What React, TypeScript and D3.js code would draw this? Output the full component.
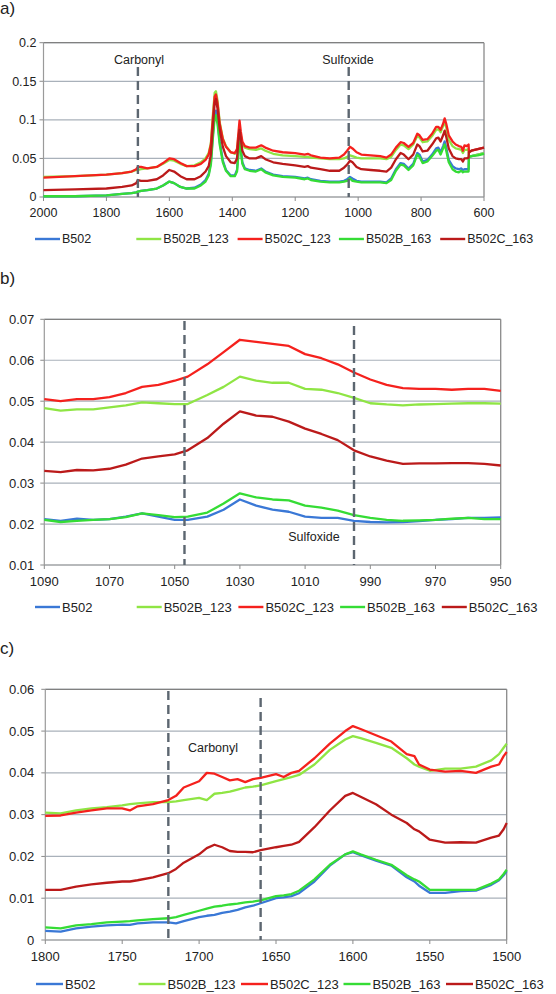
import React from "react";
import * as d3 from "d3";

// ---------- shared ----------
const seriesNames = ["B502", "B502B_123", "B502C_123", "B502B_163", "B502C_163"];
const seriesColors = ["#3a78d6", "#8fe544", "#f5211d", "#35dc35", "#bb1a1a"];

// ---------- panel a ----------
const waveA = [2000, 1900, 1800, 1750, 1720, 1705, 1700, 1690, 1670, 1640, 1620, 1600, 1585, 1565, 1545, 1520, 1500, 1485, 1475, 1468, 1462, 1456, 1452, 1447, 1440, 1430, 1420, 1405, 1392, 1385, 1380, 1377, 1373, 1368, 1360, 1345, 1325, 1308, 1295, 1270, 1240, 1200, 1170, 1160, 1150, 1120, 1090, 1060, 1045, 1035, 1026, 1018, 1005, 990, 960, 930, 910, 895, 880, 865, 855, 840, 825, 812, 805, 795, 780, 765, 752, 745, 738, 730, 725, 720, 712, 700, 690, 680, 672, 667, 662, 655, 649, 648, 640, 620, 600];
const a_B502 = [0.001, 0.001, 0.002, 0.004, 0.005, 0.006, 0.007, 0.008, 0.009, 0.011, 0.015, 0.020, 0.018, 0.013, 0.011, 0.012, 0.016, 0.022, 0.030, 0.045, 0.080, 0.108, 0.112, 0.100, 0.072, 0.047, 0.035, 0.028, 0.028, 0.035, 0.062, 0.075, 0.063, 0.045, 0.037, 0.035, 0.034, 0.037, 0.033, 0.029, 0.027, 0.026, 0.024, 0.025, 0.023, 0.021, 0.020, 0.020, 0.021, 0.023, 0.026, 0.024, 0.021, 0.020, 0.020, 0.020, 0.019, 0.024, 0.036, 0.044, 0.043, 0.037, 0.043, 0.057, 0.055, 0.046, 0.048, 0.055, 0.063, 0.064, 0.058, 0.066, 0.072, 0.064, 0.048, 0.040, 0.037, 0.036, 0.037, 0.035, 0.036, 0.036, 0.036, 0.052, 0.053, 0.055, 0.057];
const a_B502B_123 = [0.026, 0.027, 0.029, 0.031, 0.033, 0.035, 0.035, 0.036, 0.037, 0.039, 0.043, 0.048, 0.047, 0.043, 0.040, 0.041, 0.045, 0.050, 0.057, 0.070, 0.105, 0.135, 0.137, 0.125, 0.097, 0.076, 0.066, 0.058, 0.056, 0.060, 0.080, 0.088, 0.080, 0.068, 0.064, 0.062, 0.061, 0.063, 0.060, 0.056, 0.054, 0.053, 0.052, 0.052, 0.051, 0.050, 0.049, 0.049, 0.050, 0.052, 0.054, 0.053, 0.051, 0.050, 0.050, 0.050, 0.049, 0.052, 0.061, 0.068, 0.067, 0.062, 0.068, 0.079, 0.077, 0.071, 0.072, 0.079, 0.087, 0.088, 0.084, 0.092, 0.098, 0.090, 0.074, 0.066, 0.063, 0.062, 0.061, 0.057, 0.061, 0.061, 0.062, 0.052, 0.053, 0.055, 0.057];
const a_B502C_123 = [0.025, 0.027, 0.029, 0.031, 0.033, 0.036, 0.039, 0.039, 0.037, 0.039, 0.044, 0.050, 0.049, 0.044, 0.040, 0.040, 0.043, 0.048, 0.055, 0.068, 0.100, 0.130, 0.133, 0.122, 0.095, 0.075, 0.065, 0.058, 0.057, 0.062, 0.085, 0.099, 0.085, 0.072, 0.066, 0.064, 0.064, 0.067, 0.064, 0.060, 0.058, 0.057, 0.055, 0.056, 0.054, 0.051, 0.050, 0.051, 0.055, 0.060, 0.065, 0.063, 0.058, 0.055, 0.054, 0.053, 0.051, 0.055, 0.064, 0.071, 0.070, 0.065, 0.070, 0.082, 0.080, 0.074, 0.075, 0.082, 0.091, 0.091, 0.087, 0.095, 0.102, 0.095, 0.080, 0.072, 0.068, 0.066, 0.065, 0.060, 0.067, 0.066, 0.068, 0.058, 0.060, 0.062, 0.064];
const a_B502B_163 = [0.001, 0.001, 0.002, 0.004, 0.005, 0.006, 0.007, 0.008, 0.009, 0.011, 0.015, 0.020, 0.018, 0.013, 0.011, 0.011, 0.015, 0.020, 0.028, 0.042, 0.075, 0.102, 0.106, 0.095, 0.068, 0.045, 0.034, 0.027, 0.027, 0.033, 0.058, 0.071, 0.060, 0.043, 0.036, 0.034, 0.033, 0.036, 0.032, 0.028, 0.026, 0.025, 0.023, 0.024, 0.022, 0.020, 0.019, 0.019, 0.020, 0.021, 0.024, 0.021, 0.020, 0.019, 0.019, 0.019, 0.018, 0.022, 0.034, 0.042, 0.041, 0.035, 0.041, 0.055, 0.052, 0.044, 0.046, 0.053, 0.060, 0.061, 0.055, 0.063, 0.068, 0.060, 0.045, 0.036, 0.033, 0.032, 0.034, 0.032, 0.033, 0.033, 0.033, 0.052, 0.053, 0.054, 0.056];
const a_B502C_163 = [0.009, 0.010, 0.011, 0.013, 0.015, 0.018, 0.022, 0.021, 0.021, 0.023, 0.028, 0.035, 0.033, 0.027, 0.023, 0.023, 0.027, 0.033, 0.040, 0.055, 0.090, 0.122, 0.127, 0.115, 0.088, 0.065, 0.053, 0.045, 0.044, 0.050, 0.075, 0.087, 0.076, 0.060, 0.053, 0.050, 0.050, 0.053, 0.049, 0.045, 0.043, 0.041, 0.039, 0.040, 0.038, 0.036, 0.034, 0.034, 0.038, 0.042, 0.047, 0.045, 0.039, 0.036, 0.035, 0.034, 0.033, 0.038, 0.049, 0.057, 0.055, 0.049, 0.055, 0.068, 0.066, 0.059, 0.060, 0.068, 0.076, 0.077, 0.072, 0.080, 0.086, 0.078, 0.063, 0.053, 0.050, 0.049, 0.049, 0.046, 0.050, 0.050, 0.051, 0.058, 0.060, 0.062, 0.064];
const xTicksA = [2000, 1800, 1600, 1400, 1200, 1000, 800, 600];
const yTicksA = [0, 0.05, 0.1, 0.15, 0.2];
const yLabelsA = ["0", "0.05", "0.1", "0.15", "0.2"];
const dashesA = [1700, 1030];

// ---------- panel b ----------
const waveB = [1090, 1085, 1080, 1075, 1070, 1065, 1060, 1055, 1050, 1046, 1040, 1035, 1030, 1025, 1020, 1015, 1010, 1005, 1000, 995, 990, 985, 980, 975, 970, 965, 960, 955, 950];
const b_B502 = [0.0212, 0.0208, 0.0213, 0.021, 0.0212, 0.0218, 0.0226, 0.0218, 0.021, 0.021, 0.0218, 0.0235, 0.026, 0.0245, 0.0235, 0.023, 0.0218, 0.0215, 0.0215, 0.0208, 0.0205, 0.0204, 0.0205, 0.0207, 0.021, 0.0212, 0.0215, 0.0215, 0.0216];
const b_B502B_123 = [0.0483, 0.0477, 0.048, 0.048, 0.0485, 0.049, 0.0497, 0.0495, 0.0493, 0.0493, 0.0515, 0.0535, 0.056, 0.055, 0.0545, 0.0545, 0.053, 0.0528, 0.052, 0.0508, 0.0495, 0.0492, 0.049, 0.0492, 0.0493, 0.0494, 0.0495, 0.0495, 0.0494];
const b_B502C_123 = [0.0505, 0.05, 0.0505, 0.0505, 0.051, 0.052, 0.0535, 0.054, 0.055, 0.056, 0.059, 0.062, 0.065, 0.0645, 0.064, 0.0635, 0.0615, 0.0605, 0.059, 0.057, 0.0553, 0.054, 0.0532, 0.053, 0.053, 0.0528, 0.053, 0.053, 0.0525];
const b_B502B_163 = [0.021, 0.0205, 0.0208, 0.021, 0.0212, 0.0217, 0.0226, 0.0222, 0.0217, 0.0218, 0.0228, 0.025, 0.0275, 0.0265, 0.026, 0.0258, 0.0245, 0.024, 0.0233, 0.0222, 0.0215, 0.021, 0.0208, 0.0209, 0.021, 0.0213, 0.0215, 0.0212, 0.0212];
const b_B502C_163 = [0.033, 0.0327, 0.0332, 0.0331, 0.0335, 0.0345, 0.036, 0.0365, 0.037, 0.038, 0.041, 0.0445, 0.0475, 0.0465, 0.0462, 0.045, 0.0433, 0.042, 0.0405, 0.038, 0.0365, 0.0355, 0.0347, 0.0348, 0.0348, 0.0349, 0.0349, 0.0347, 0.0343];
const xTicksB = [1090, 1070, 1050, 1030, 1010, 990, 970, 950];
const yTicksB = [0.01, 0.02, 0.03, 0.04, 0.05, 0.06, 0.07];
const yLabelsB = ["0.01", "0.02", "0.03", "0.04", "0.05", "0.06", "0.07"];
const dashesB = [1047, 995];

// ---------- panel c ----------
const waveC = [1800, 1790, 1780, 1770, 1760, 1750, 1745, 1740, 1730, 1720, 1715, 1710, 1700, 1695, 1690, 1685, 1680, 1675, 1670, 1665, 1660, 1650, 1645, 1640, 1635, 1625, 1615, 1605, 1600, 1595, 1585, 1575, 1565, 1560, 1557, 1550, 1540, 1530, 1520, 1510, 1505, 1502, 1500];
const c_B502 = [0.0022, 0.002, 0.0028, 0.0032, 0.0035, 0.0037, 0.0036, 0.004, 0.0042, 0.0042, 0.004, 0.0045, 0.0055, 0.0058, 0.006, 0.0065, 0.0068, 0.0072, 0.0078, 0.0082, 0.0088, 0.01, 0.0102, 0.0105, 0.0112, 0.014, 0.0178, 0.0205, 0.021, 0.0203, 0.019, 0.0178, 0.015, 0.014, 0.013, 0.0113, 0.0113, 0.0117, 0.0118, 0.0132, 0.0143, 0.0155, 0.0165];
const c_B502B_123 = [0.0305, 0.0303, 0.031, 0.0315, 0.0318, 0.0322, 0.0325, 0.0327, 0.033, 0.033, 0.0332, 0.0335, 0.034, 0.0335, 0.035, 0.0352, 0.0355, 0.036, 0.0365, 0.0367, 0.037, 0.038, 0.0385, 0.039, 0.0395, 0.042, 0.0455, 0.048, 0.0488, 0.0483, 0.0472, 0.046, 0.0435, 0.042, 0.0415, 0.0405, 0.041, 0.041, 0.0415, 0.043, 0.0445, 0.046, 0.047];
const c_B502C_123 = [0.0297, 0.0298, 0.0305, 0.031, 0.0315, 0.0315, 0.031, 0.032, 0.0325, 0.0335, 0.0345, 0.0365, 0.038, 0.04, 0.0398, 0.039, 0.0382, 0.0385, 0.0378, 0.0385, 0.0388, 0.0397, 0.039, 0.04, 0.0405, 0.0435, 0.047, 0.05, 0.0512, 0.0505, 0.049, 0.0475, 0.0445, 0.044, 0.042, 0.0408, 0.0403, 0.0405, 0.04, 0.0415, 0.042, 0.044, 0.045];
const c_B502B_163 = [0.003, 0.0028, 0.0035, 0.0038, 0.0042, 0.0044, 0.0045, 0.0047, 0.005, 0.0052, 0.0055, 0.006, 0.007, 0.0075, 0.008, 0.0082, 0.0085, 0.0087, 0.009, 0.0092, 0.0095, 0.0105, 0.0107, 0.011, 0.0118, 0.0145, 0.018, 0.0205, 0.0212, 0.0205, 0.0192, 0.018, 0.0155, 0.0145, 0.014, 0.012, 0.012, 0.012, 0.012, 0.0135, 0.0145, 0.0158, 0.0168];
const c_B502C_163 = [0.012, 0.012, 0.0128, 0.0133, 0.0137, 0.014, 0.014, 0.0143, 0.015, 0.016, 0.017, 0.0185, 0.0205, 0.022, 0.0228, 0.0222, 0.0213, 0.0211, 0.0211, 0.021, 0.0215, 0.0222, 0.0225, 0.0228, 0.0235, 0.027, 0.031, 0.0345, 0.0352, 0.0343, 0.0325, 0.03, 0.028, 0.0265, 0.026, 0.024, 0.0233, 0.0234, 0.0233, 0.0245, 0.025, 0.0265, 0.028];
const xTicksC = [1800, 1750, 1700, 1650, 1600, 1550, 1500];
const yTicksC = [0, 0.01, 0.02, 0.03, 0.04, 0.05, 0.06];
const yLabelsC = ["0", "0.01", "0.02", "0.03", "0.04", "0.05", "0.06"];
const dashesC = [1720, 1660];

const FONT = "'Liberation Sans', Arial, sans-serif";

type PanelProps = {
  tag: string;
  tagY: number;
  left: number; right: number; top: number; bottom: number;
  xDomain: [number, number];
  yDomain: [number, number];
  waves: number[];
  series: number[][];
  xTicks: number[];
  yTicks: number[];
  yLabels: string[];
  dashes: number[];
  dashTops: number[];
  notes: { text: string; x: number; y: number }[];
  legendY: number;
  legendX0: number;
  legendStep: number;
  legendLine: number;
  fontSize: number;
  yLabelGap: number;
  xLabelOffset: number;
};

function Panel(p: PanelProps) {
  const x = d3.scaleLinear().domain(p.xDomain).range([p.left, p.right]);
  const y = d3.scaleLinear().domain(p.yDomain).range([p.bottom, p.top]);
  const line = d3.line<number>()
    .x((_, i) => x(p.waves[i]))
    .y((d) => y(d));
  return (
    <g>
      <text x={0} y={p.tagY} fontSize={17} fontFamily={FONT} fill="#222">{p.tag}</text>
      {p.yTicks.map((t, i) => (
        <g key={"y" + i}>
          <line x1={p.left} x2={p.right} y1={y(t)} y2={y(t)} stroke="#a9b1ba" strokeWidth={1.2} />
          <line x1={p.left - 4} x2={p.left} y1={y(t)} y2={y(t)} stroke="#8a8a8a" strokeWidth={1} />
          <text x={p.left - p.yLabelGap} y={y(t)} dy="0.35em" textAnchor="end" fontSize={p.fontSize} fontFamily={FONT} fill="#222">{p.yLabels[i]}</text>
        </g>
      ))}
      <line x1={p.left} x2={p.right} y1={p.top} y2={p.top} stroke="#808080" strokeWidth={1.3} />
      <line x1={p.right} x2={p.right} y1={p.top} y2={p.bottom} stroke="#8a8a8a" strokeWidth={1.3} />
      <line x1={p.left} x2={p.left} y1={p.top} y2={p.bottom} stroke="#9a9a9a" strokeWidth={1.2} />
      <line x1={p.left} x2={p.right} y1={p.bottom} y2={p.bottom} stroke="#9a9a9a" strokeWidth={1.2} />
      {p.xTicks.map((t, i) => (
        <g key={"x" + i}>
          <line x1={x(t)} x2={x(t)} y1={p.bottom} y2={p.bottom + 4} stroke="#8a8a8a" strokeWidth={1} />
          <text x={x(t)} y={p.bottom + p.xLabelOffset} textAnchor="middle" fontSize={p.fontSize} fontFamily={FONT} fill="#222">{t}</text>
        </g>
      ))}
      {p.series.map((s, i) => (
        <path key={"s" + i} d={line(s) || ""} fill="none" stroke={seriesColors[i]} strokeWidth={2.3} strokeLinejoin="round" />
      ))}
      {p.dashes.map((d, i) => (
        <line key={"d" + i} x1={x(d)} x2={x(d)} y1={p.dashTops[i]} y2={p.bottom} stroke="#5c6670" strokeWidth={2.4} strokeDasharray="9,5" />
      ))}
      {p.notes.map((n, i) => (
        <text key={"n" + i} x={n.x} y={n.y} textAnchor="middle" fontSize={12.5} fontFamily={FONT} fill="#222">{n.text}</text>
      ))}
      {seriesNames.map((name, i) => {
        const lx = p.legendX0 + i * p.legendStep;
        return (
          <g key={"l" + i}>
            <line x1={lx} x2={lx + p.legendLine} y1={p.legendY} y2={p.legendY} stroke={seriesColors[i]} strokeWidth={2.4} />
            <text x={lx + p.legendLine + 2} y={p.legendY} dy="0.35em" fontSize={p.fontSize} fontFamily={FONT} fill="#222">{name}</text>
          </g>
        );
      })}
    </g>
  );
}

export default function App() {
  return (
    <svg width={556} height={994} style={{ position: "absolute", left: 0, top: 0, background: "#fff" }}>
      <rect x={0} y={0} width={556} height={994} fill="#fff" />
      <Panel
        tag="a)" tagY={14}
        left={43.5} right={484} top={42.7} bottom={197}
        xDomain={[2000, 600]} yDomain={[0, 0.2]}
        waves={waveA}
        series={[a_B502, a_B502B_123, a_B502C_123, a_B502B_163, a_B502C_163]}
        xTicks={xTicksA} yTicks={yTicksA} yLabels={yLabelsA}
        dashes={dashesA} dashTops={[67, 67]}
        notes={[{ text: "Carbonyl", x: 139, y: 64 }, { text: "Sulfoxide", x: 348, y: 64 }]}
        legendY={239} legendX0={35} legendStep={101.3} legendLine={25}
        fontSize={12.5} yLabelGap={7} xLabelOffset={20}
      />
      <Panel
        tag="b)" tagY={284}
        left={44.3} right={500.7} top={319.3} bottom={565}
        xDomain={[1090, 950]} yDomain={[0.01, 0.07]}
        waves={waveB}
        series={[b_B502, b_B502B_123, b_B502C_123, b_B502B_163, b_B502C_163]}
        xTicks={xTicksB} yTicks={yTicksB} yLabels={yLabelsB}
        dashes={dashesB} dashTops={[321, 326]}
        notes={[{ text: "Sulfoxide", x: 314, y: 541 }]}
        legendY={607} legendX0={35} legendStep={101.7} legendLine={25}
        fontSize={13} yLabelGap={10} xLabelOffset={21}
      />
      <Panel
        tag="c)" tagY={654}
        left={45.3} right={506.7} top={689.3} bottom={940}
        xDomain={[1800, 1500]} yDomain={[0, 0.06]}
        waves={waveC}
        series={[c_B502, c_B502B_123, c_B502C_123, c_B502B_163, c_B502C_163]}
        xTicks={xTicksC} yTicks={yTicksC} yLabels={yLabelsC}
        dashes={dashesC} dashTops={[691, 698]}
        notes={[{ text: "Carbonyl", x: 213, y: 752 }]}
        legendY={984} legendX0={36} legendStep={102.5} legendLine={27}
        fontSize={13} yLabelGap={11} xLabelOffset={21}
      />
    </svg>
  );
}
